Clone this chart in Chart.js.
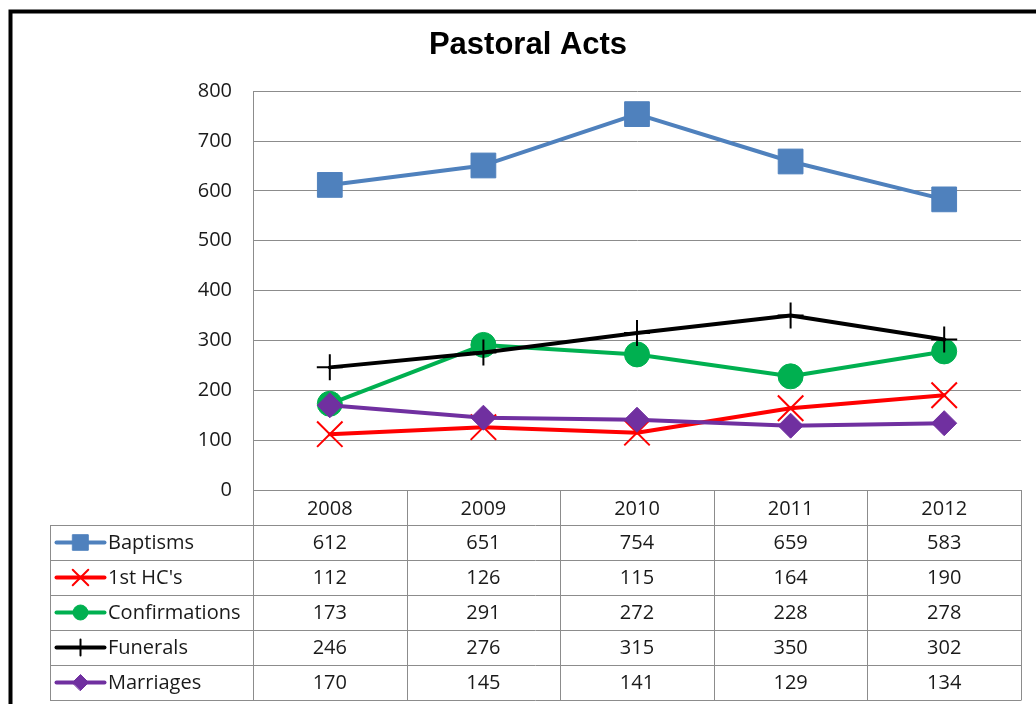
<!DOCTYPE html>
<html>
<head>
<meta charset="utf-8">
<script src="https://cdn.jsdelivr.net/npm/chart.js@4.4.1/dist/chart.umd.min.js"></script>
<style>
  html, body { margin: 0; padding: 0; background: #fff; }
  canvas { display: block; }
</style>
</head>
<body>
<canvas id="acts" width="1036" height="704"></canvas>
<script>
const years = ['2008', '2009', '2010', '2011', '2012'];
const baptisms = [612, 651, 754, 659, 583];
const firstHC = [112, 126, 115, 164, 190];
const confirmations = [173, 291, 272, 228, 278];
const funerals = [246, 276, 315, 350, 302];
const marriages = [170, 145, 141, 129, 134];

const seriesNames = ['Baptisms', "1st HC's", 'Confirmations', 'Funerals', 'Marriages'];
const seriesValues = [baptisms, firstHC, confirmations, funerals, marriages];

const TEXT_FONT = '"Open Sans", "Liberation Sans", sans-serif';
const TEXT_SIZE = 20;
const gridColor = '#8c8c8c';
const textColor = '#1a1a1a';

// one look per series: colour + marker
const looks = [
    { color: '#4f81bd', style: 'rect',     radius: 17.5, width: 1, keyRadius: 11 },
    { color: '#ff0000', style: 'crossRot', radius: 18,   width: 2, keyRadius: 11 },
    { color: '#00b050', style: 'circle',   radius: 12.5, width: 1, keyRadius: 7.5 },
    { color: '#000000', style: 'cross',    radius: 13,   width: 2, keyRadius: 8 },
    { color: '#7030a0', style: 'rectRot',  radius: 12.5, width: 1, keyRadius: 8 }
];

const datasets = seriesNames.map((name, i) => ({
    label: name,
    data: seriesValues[i],
    borderColor: looks[i].color,
    backgroundColor: looks[i].color,
    borderWidth: 4,
    borderJoinStyle: 'round',
    borderCapStyle: 'round',
    pointStyle: looks[i].style,
    pointRadius: looks[i].radius,
    pointHoverRadius: looks[i].radius,
    pointBorderWidth: looks[i].width,
    pointBorderColor: looks[i].color,
    pointBackgroundColor: looks[i].color,
    tension: 0,
    clip: false,
    order: seriesNames.length - i   // later series on top, like Excel
}));

// white page + the thick black frame of the chart object
const frame = {
    id: 'frame',
    beforeDraw(chart) {
        const { ctx, width, height } = chart;
        ctx.save();
        ctx.fillStyle = '#fff';
        ctx.fillRect(0, 0, width, height);
        ctx.strokeStyle = '#000';
        ctx.lineWidth = 4;
        ctx.strokeRect(10.5, 11.5, width + 40, height + 40);
        ctx.restore();
    }
};

function drawKey(ctx, look, cx, cy) {
    ctx.strokeStyle = look.color;
    ctx.fillStyle = look.color;
    ctx.lineWidth = 4;
    ctx.lineCap = 'round';
    ctx.beginPath();
    ctx.moveTo(cx - 24, cy);
    ctx.lineTo(cx + 24, cy);
    ctx.stroke();
    ctx.lineWidth = look.width;
    Chart.helpers.drawPoint(ctx, {
        pointStyle: look.style, rotation: 0, radius: look.keyRadius, borderWidth: look.width
    }, cx, cy);
}

// Excel-style data table under the plot
const dataTable = {
    id: 'dataTable',
    afterDraw(chart) {
        const { ctx, chartArea: a, scales: { x } } = chart;
        const rowH = 35;
        const keyLeft = 50;
        const top = Math.round(a.bottom);
        const bottom = top + rowH * (seriesNames.length + 1);
        const half = (x.getPixelForValue(1) - x.getPixelForValue(0)) / 2;
        const px = v => Math.round(v) + 0.5;

        ctx.save();
        ctx.strokeStyle = gridColor;
        ctx.lineWidth = 1;
        ctx.beginPath();
        // header top (axis) and row lines
        ctx.moveTo(a.left, px(top)); ctx.lineTo(a.right, px(top));
        for (let r = 1; r <= seriesNames.length + 1; r++) {
            const y = px(top + r * rowH);
            ctx.moveTo(keyLeft, y); ctx.lineTo(a.right, y);
        }
        // column lines
        ctx.moveTo(px(keyLeft), top + rowH); ctx.lineTo(px(keyLeft), px(bottom));
        for (let i = 0; i <= years.length; i++) {
            const xx = px(x.getPixelForValue(0) - half + i * 2 * half);
            ctx.moveTo(xx, top); ctx.lineTo(xx, px(bottom));
        }
        ctx.stroke();

        ctx.font = TEXT_SIZE + 'px ' + TEXT_FONT;
        ctx.textBaseline = 'middle';
        seriesNames.forEach((name, r) => {
            const cy = top + rowH * (r + 1) + rowH / 2;
            ctx.save();
            drawKey(ctx, looks[r], 80.5, cy);
            ctx.restore();
            ctx.fillStyle = textColor;
            ctx.textAlign = 'left';
            ctx.fillText(name, 108, cy + 1);
            ctx.textAlign = 'center';
            seriesValues[r].forEach((v, i) => {
                ctx.fillText(String(v), x.getPixelForValue(i), cy + 1);
            });
        });
        ctx.restore();
    }
};

new Chart(document.getElementById('acts'), {
    type: 'line',
    data: { labels: years, datasets },
    options: {
        responsive: false,
        animation: false,
        events: [],
        layout: { autoPadding: false, padding: { left: 35, right: 15, top: 0, bottom: 0 } },
        plugins: {
            legend: { display: false },
            tooltip: { enabled: false },
            title: {
                display: true,
                text: 'Pastoral Acts',
                color: '#000',
                font: { family: '"Liberation Sans", Arial, sans-serif', size: 31, weight: 'bold', lineHeight: 1.2 },
                padding: { top: 27, bottom: 27 }
            }
        },
        scales: {
            x: {
                offset: true,
                grid: { display: false, drawTicks: false },
                border: { display: false },
                ticks: { color: textColor, padding: 7, font: { family: TEXT_FONT, size: TEXT_SIZE } },
                afterFit: s => { s.height = 214; s.paddingLeft = 0; s.paddingRight = 0; }
            },
            y: {
                min: 0,
                max: 800,
                grid: { color: gridColor, drawTicks: false },
                border: { display: true, color: gridColor },
                ticks: { stepSize: 100, color: textColor, padding: 21, font: { family: TEXT_FONT, size: TEXT_SIZE } },
                afterFit: s => { s.width = 218; }
            }
        }
    },
    plugins: [frame, dataTable]
});
</script>
</body>
</html>
